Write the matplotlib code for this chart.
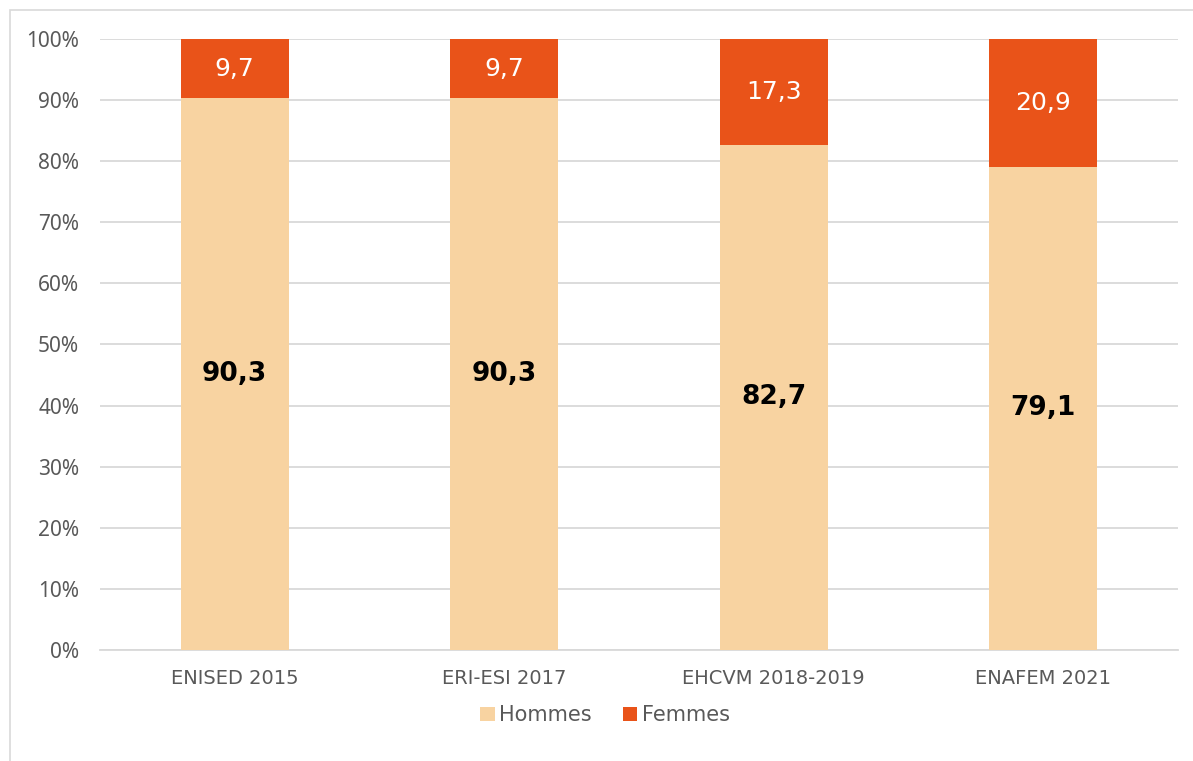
import numpy as np
import matplotlib.pyplot as plt
from matplotlib.patches import Rectangle

categories = ['ENISED 2015', 'ERI-ESI 2017', 'EHCVM 2018-2019', 'ENAFEM 2021']
hommes = [90.3, 90.3, 82.7, 79.1]
femmes = [9.7, 9.7, 17.3, 20.9]

c_h = '#F8D3A1'
c_f = '#E95319'
txt = '#595959'

fig = plt.figure(figsize=(11.93, 7.61), dpi=100)
ax = fig.add_axes([0.0838, 0.1459, 0.9036, 0.8029])

# cadre du graphique
fig.patches.append(Rectangle((10/1193, -0.1), 1.1, 1.1 - 10/761, transform=fig.transFigure,
                             fill=False, edgecolor='#D9D9D9', linewidth=1.2))

x = np.arange(len(categories))
ax.bar(x, hommes, width=0.4, color=c_h, label='Hommes', zorder=3)
ax.bar(x, femmes, width=0.4, bottom=hommes, color=c_f, label='Femmes', zorder=3)

for i in range(len(x)):
    ax.text(x[i], hommes[i] / 2, f'{hommes[i]:.1f}'.replace('.', ','), ha='center', va='center',
            fontsize=19, fontweight='bold', color='black', family='DejaVu Sans', zorder=4)
    ax.text(x[i], hommes[i] + femmes[i] / 2, f'{femmes[i]:.1f}'.replace('.', ','), ha='center',
            va='center', fontsize=18, color='white', family='DejaVu Sans', zorder=4)

ax.set_xlim(-0.5, 3.5)
ax.set_ylim(0, 100)
ax.set_yticks(range(0, 101, 10))
ax.set_yticklabels([f'{v}%' for v in range(0, 101, 10)], family='Noto Sans', fontsize=15, color=txt)
ax.set_xticks(x)
ax.set_xticklabels(categories, family='DejaVu Sans', fontsize=14, color=txt)
ax.tick_params(axis='both', length=0)
ax.tick_params(axis='x', pad=14)
ax.tick_params(axis='y', pad=15)
ax.grid(axis='y', color='#D9D9D9', linewidth=1.3, zorder=0)
for s in ['top', 'right', 'left']:
    ax.spines[s].set_visible(False)
ax.spines['bottom'].set_color('#D9D9D9')
ax.spines['bottom'].set_linewidth(1.3)

leg = fig.legend(loc='center', bbox_to_anchor=(0.507, 0.06), ncol=2, frameon=False,
                 prop={'family': 'DejaVu Sans', 'size': 15}, handlelength=0.7, handleheight=0.7,
                 handletextpad=0.2, columnspacing=1.5)
for t in leg.get_texts():
    t.set_color(txt)

fig.savefig('out.png', dpi=100)
